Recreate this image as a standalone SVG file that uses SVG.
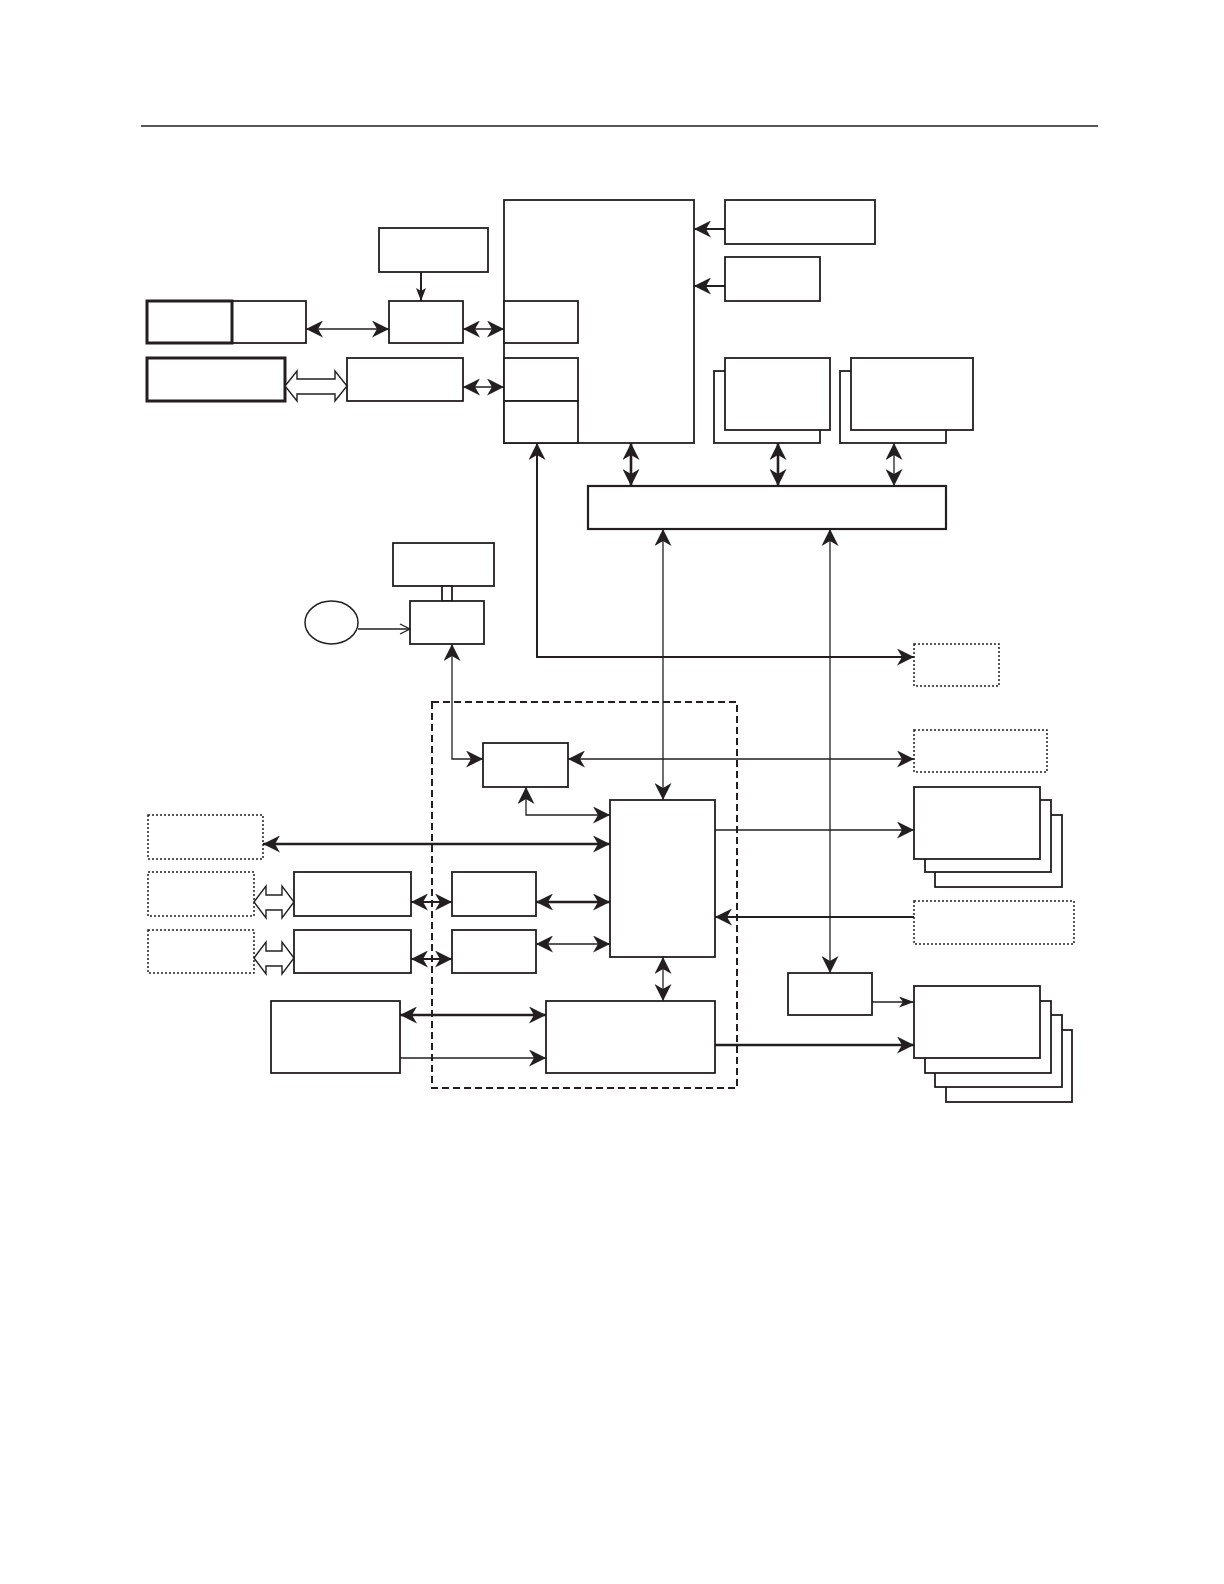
<svg xmlns="http://www.w3.org/2000/svg" width="1224" height="1584" viewBox="0 0 1224 1584">
<style>
.b{fill:#fff;stroke:#231f20;stroke-width:1.8}
.bk{fill:#fff;stroke:#231f20;stroke-width:3}
.bd{fill:#fff;stroke:#231f20;stroke-width:1.5;stroke-dasharray:2 2}
.dash{fill:none;stroke:#231f20;stroke-width:2;stroke-dasharray:7 4}
.c{fill:none;stroke:#231f20;stroke-width:1.3}
.cm{fill:none;stroke:#231f20;stroke-width:2}
.ct{fill:none;stroke:#231f20;stroke-width:2.6}
.h{fill:#fff;stroke:#231f20;stroke-width:1.4}
</style>
<defs>
<marker id="ah" viewBox="0 0 17 17" markerWidth="17" markerHeight="17" refX="17" refY="8.5" orient="auto-start-reverse" markerUnits="userSpaceOnUse">
<path d="M0,0 L17,8.5 L0,17 L5,8.5 z" fill="#231f20"/>
</marker>
<marker id="as" viewBox="0 0 15 11" markerWidth="15" markerHeight="11" refX="15" refY="5.5" orient="auto-start-reverse" markerUnits="userSpaceOnUse">
<path d="M0,0 L15,5.5 L0,11 L4,5.5 z" fill="#231f20"/>
</marker>
<marker id="an" viewBox="0 0 13 10" markerWidth="13" markerHeight="10" refX="13" refY="5" orient="auto-start-reverse" markerUnits="userSpaceOnUse">
<path d="M0,0 L13,5 L0,10 L3,5 z" fill="#231f20"/>
</marker>
<marker id="ao" viewBox="0 0 12 12" markerWidth="12" markerHeight="12" refX="11" refY="6" orient="auto" markerUnits="userSpaceOnUse">
<path d="M1,1 L11,6 L1,11" fill="none" stroke="#231f20" stroke-width="1.3"/>
</marker>
</defs>
<rect width="1224" height="1584" fill="#fff"/>
<line x1="141" y1="126" x2="1098" y2="126" stroke="#231f20" stroke-width="1.3"/>

<rect id="boundary" class="dash" x="432" y="702" width="305" height="386"/>

<g id="nodes">
<g id="A"><rect class="b" x="504" y="200" width="190" height="243"/>
<rect class="b" x="504" y="301" width="74" height="42"/>
<rect class="b" x="504" y="358" width="74" height="43"/>
<rect class="b" x="504" y="401" width="74" height="42"/></g>
<g id="B"><rect class="b" x="379" y="228" width="109" height="44"/></g>
<g id="C"><rect class="b" x="389" y="301" width="74" height="42"/></g>
<g id="D"><rect class="b" x="232" y="301" width="74" height="42"/><rect class="bk" x="147" y="301" width="85" height="42"/></g>
<g id="E"><rect class="bk" x="147" y="358" width="138" height="43"/></g>
<g id="F"><rect class="b" x="347" y="358" width="116" height="43"/></g>
<g id="G"><rect class="b" x="725" y="200" width="150" height="44"/></g>
<g id="H"><rect class="b" x="725" y="257" width="95" height="44"/></g>
<g id="I"><rect class="b" x="714" y="371" width="106" height="72"/><rect class="b" x="725" y="358" width="105" height="72"/></g>
<g id="J"><rect class="b" x="840" y="371" width="106" height="72"/><rect class="b" x="851" y="358" width="122" height="72"/></g>
<g id="K"><rect class="b" x="588" y="486" width="358" height="43" style="stroke-width:2.2"/></g>
<g id="P"><rect class="b" x="393" y="543" width="101" height="43"/></g>
<g id="PQ"><rect class="b" x="442" y="586" width="10" height="15"/></g>
<g id="Q"><rect class="b" x="410" y="601" width="74" height="43"/></g>
<g id="O"><ellipse class="b" cx="331.5" cy="622.5" rx="26.5" ry="21.5" style="stroke-width:1.5"/></g>
<g id="S"><rect class="bd" x="914" y="644" width="85" height="42"/></g>
<g id="T"><rect class="bd" x="914" y="730" width="133" height="42"/></g>
<g id="R"><rect class="b" x="483" y="743" width="85" height="44"/></g>
<g id="M"><rect class="b" x="610" y="800" width="105" height="157"/></g>
<g id="U"><rect class="b" x="935" y="815" width="127" height="72"/><rect class="b" x="925" y="800" width="126" height="72"/><rect class="b" x="914" y="787" width="126" height="72"/></g>
<g id="V"><rect class="bd" x="914" y="901" width="160" height="43"/></g>
<g id="N"><rect class="b" x="788" y="973" width="84" height="42"/></g>
<g id="W"><rect class="b" x="946" y="1030" width="126" height="72"/><rect class="b" x="935" y="1015" width="127" height="72"/><rect class="b" x="925" y="1001" width="126" height="72"/><rect class="b" x="914" y="986" width="126" height="72"/></g>
<g id="X"><rect class="b" x="546" y="1001" width="169" height="72"/></g>
<g id="L"><rect class="b" x="271" y="1001" width="129" height="72"/></g>
<g id="Y1"><rect class="bd" x="148" y="815" width="115" height="44"/></g>
<g id="Y2"><rect class="bd" x="148" y="872" width="106" height="44"/></g>
<g id="Y3"><rect class="bd" x="148" y="930" width="106" height="43"/></g>
<g id="Z1"><rect class="b" x="294" y="872" width="117" height="44"/></g>
<g id="Z2"><rect class="b" x="294" y="930" width="117" height="43"/></g>
<g id="Z3"><rect class="b" x="452" y="872" width="84" height="44"/></g>
<g id="Z4"><rect class="b" x="452" y="930" width="84" height="43"/></g>
</g>

<g id="connectors">
<line class="cm" x1="421" y1="272" x2="421" y2="301" marker-end="url(#an)"/>
<line class="c" x1="306" y1="329" x2="389" y2="329" marker-start="url(#ah)" marker-end="url(#ah)"/>
<line class="c" x1="463" y1="329" x2="504" y2="329" marker-start="url(#ah)" marker-end="url(#ah)"/>
<line class="c" x1="463" y1="387" x2="504" y2="387" marker-start="url(#ah)" marker-end="url(#ah)"/>
<polygon class="h" points="285,386 297,371 297,379 335,379 335,371 347,386 335,401 335,394 297,394 297,401"/>
<line class="cm" x1="725" y1="229" x2="694" y2="229" marker-end="url(#ah)"/>
<line class="cm" x1="725" y1="286" x2="694" y2="286" marker-end="url(#ah)"/>
<line class="ct" x1="631" y1="443" x2="631" y2="486" marker-start="url(#ah)" marker-end="url(#ah)"/>
<line class="ct" x1="778" y1="443" x2="778" y2="486" marker-start="url(#ah)" marker-end="url(#ah)"/>
<line class="c" x1="894" y1="443" x2="894" y2="486" marker-start="url(#ah)" marker-end="url(#ah)"/>
<line class="c" x1="663" y1="529" x2="663" y2="800" marker-start="url(#ah)" marker-end="url(#ah)"/>
<line class="c" x1="830" y1="529" x2="830" y2="973" marker-start="url(#ah)" marker-end="url(#ah)"/>
<polyline class="cm" points="537,443 537,657 914,657" marker-start="url(#ah)" marker-end="url(#ah)"/>
<line class="c" x1="358" y1="629" x2="410" y2="629" marker-end="url(#ao)"/>
<polyline class="c" points="452,644 452,759 483,759" marker-start="url(#ah)" marker-end="url(#ah)"/>
<line class="c" x1="568" y1="759" x2="914" y2="759" marker-start="url(#ah)" marker-end="url(#ah)"/>
<polyline class="c" points="526,787 526,815 610,815" marker-start="url(#ah)" marker-end="url(#ah)"/>
<line class="ct" x1="263" y1="844" x2="610" y2="844" marker-start="url(#ah)" marker-end="url(#ah)"/>
<polygon class="h" points="254,902 266,886 266,895 282,895 282,886 294,902 282,918 282,910 266,910 266,918"/>
<line class="cm" x1="411" y1="902" x2="452" y2="902" marker-start="url(#ah)" marker-end="url(#ah)"/>
<line class="ct" x1="536" y1="902" x2="610" y2="902" marker-start="url(#ah)" marker-end="url(#ah)"/>
<polygon class="h" points="254,958 266,942 266,951 282,951 282,942 294,958 282,974 282,966 266,966 266,974"/>
<line class="cm" x1="411" y1="959" x2="452" y2="959" marker-start="url(#ah)" marker-end="url(#ah)"/>
<line class="c" x1="536" y1="944" x2="610" y2="944" marker-start="url(#ah)" marker-end="url(#ah)"/>
<line class="c" x1="715" y1="830" x2="914" y2="830" marker-end="url(#ah)"/>
<line class="cm" x1="914" y1="917" x2="715" y2="917" marker-end="url(#ah)"/>
<line class="c" x1="663" y1="957" x2="663" y2="1001" marker-start="url(#ah)" marker-end="url(#ah)"/>
<line class="ct" x1="400" y1="1015" x2="546" y2="1015" marker-start="url(#ah)" marker-end="url(#ah)"/>
<line class="c" x1="400" y1="1058" x2="546" y2="1058" marker-end="url(#ah)"/>
<line class="c" x1="872" y1="1002" x2="914" y2="1002" marker-end="url(#as)"/>
<line class="ct" x1="715" y1="1045" x2="914" y2="1045" marker-end="url(#ah)"/>
</g>
</svg>
